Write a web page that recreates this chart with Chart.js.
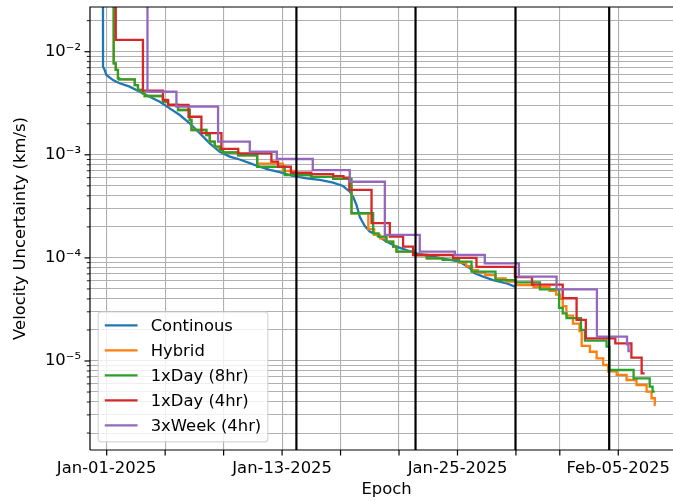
<!DOCTYPE html>
<html>
<head>
<meta charset="utf-8">
<script src="https://cdn.jsdelivr.net/npm/chart.js@4.4.1/dist/chart.umd.min.js"></script>
<style>
  html, body { margin: 0; padding: 0; background: #fff; overflow: hidden; }
  canvas { display: block; }
</style>
</head>
<body>
<canvas id="chart" width="683" height="501"></canvas>
<script>
// Epochs are days since 2025-01-01 00:00 UTC; values are 1-sigma velocity uncertainty in km/s.
// Step series hold each value from its epoch until the next epoch.
const seriesNames  = ['Continous', 'Hybrid', '1xDay (8hr)', '1xDay (4hr)', '3xWeek (4hr)'];
const seriesColors = ['#1f77b4', '#ff7f0e', '#2ca02c', '#d62728', '#9467bd'];

const contDays = [-0.26, -0.25, -0.14, -0.02, 0.43, 0.89, 1.57, 2.26, 2.94, 3.63, 4.31, 5.0, 5.68, 6.37, 7.05, 7.73,
  8.42, 9.10, 9.79, 10.47, 11.16, 11.84, 12.75, 13.67, 14.58, 15.49, 16.17, 16.63, 16.86, 17.09, 17.32, 17.66,
  18.0, 18.46, 19.14, 19.83, 20.51, 21.2, 22.33, 23.48, 24.16, 24.85, 25.19, 25.76, 26.44, 27.36, 27.93];
const contVel = [1e-1, 7.15e-3, 6.65e-3, 5.94e-3, 5.31e-3, 4.94e-3, 4.58e-3, 4.09e-3, 3.66e-3, 3.27e-3, 2.82e-3, 2.43e-3,
  2.02e-3, 1.62e-3, 1.29e-3, 1.07e-3, 9.6e-4, 9.0e-4, 8.3e-4, 7.66e-4, 7.13e-4, 6.8e-4, 6.23e-4, 5.92e-4, 5.7e-4,
  5.36e-4, 4.98e-4, 4.39e-4, 3.92e-4, 3.26e-4, 2.49e-4, 2.04e-4, 1.8e-4, 1.67e-4, 1.44e-4, 1.285e-4, 1.19e-4,
  1.108e-4, 1.028e-4, 9.55e-5, 9.19e-5, 7.93e-5, 7.09e-5, 6.58e-5, 6.1e-5, 5.67e-5, 5.26e-5];

const hybDays = [-0.3, 0.48, 0.62, 0.77, 0.85, 1.92, 2.14, 2.48, 2.6, 3.85, 4.2, 4.88, 5.68, 5.8, 6.82, 7.05, 7.39,
  7.73, 7.96, 8.99, 10.3, 12.05, 12.9, 14.0, 15.5, 16.65, 16.75, 17.9, 18.3, 18.7, 19.14, 19.6, 19.83, 21.08, 21.9,
  23.0, 24.1, 24.6, 25.0, 25.4, 25.9, 26.6, 27.3, 28.0, 29.2, 30.3, 30.75, 31.0, 31.2, 31.45, 31.9, 32.35, 32.5,
  33.06, 33.52, 33.97, 34.31, 34.89, 35.57, 36.25, 36.94, 37.28, 37.5, 37.55];
const hybVel = [1e-1, 7.72e-3, 6.65e-3, 5.52e-3, 5.40e-3, 4.75e-3, 4.25e-3, 3.95e-3, 3.72e-3, 3.27e-3, 3.04e-3, 2.72e-3,
  2.18e-3, 1.74e-3, 1.556e-3, 1.34e-3, 1.20e-3, 1.11e-3, 1.053e-3, 9.9e-4, 8.2e-4, 6.97e-4, 6.37e-4, 6.1e-4, 5.83e-4,
  5.0e-4, 2.71e-4, 1.9e-4, 1.67e-4, 1.55e-4, 1.44e-4, 1.285e-4, 1.15e-4, 1.067e-4, 9.9e-5, 9.55e-5, 9.0e-5, 8.3e-5,
  7.6e-5, 7.2e-5, 6.8e-5, 6.34e-5, 5.9e-5, 5.46e-5, 5.2e-5, 4.8e-5, 4.4e-5, 4.0e-5, 3.4e-5, 2.75e-5, 2.3e-5, 1.95e-5,
  1.4e-5, 1.23e-5, 1.062e-5, 9.14e-6, 7.94e-6, 7.32e-6, 6.54e-6, 5.85e-6, 5.04e-6, 4.35e-6, 3.74e-6, 3.74e-6];

const day8Days = [-0.3, 0.48, 0.62, 0.77, 0.85, 1.92, 2.14, 2.48, 2.6, 3.85, 4.2, 4.88, 5.68, 5.8, 6.82, 7.05, 7.39,
  7.73, 7.96, 8.99, 10.3, 12.18, 14.0, 15.5, 16.75, 18.23, 18.6, 19.14, 19.6, 19.83, 21.08, 21.9, 23.0, 24.1, 24.96,
  26.6, 28.0, 29.64, 30.95, 31.2, 31.46, 32.45, 32.72, 34.2, 34.4, 36.05, 37.15, 37.35, 37.5];
const day8Vel = [1e-1, 7.72e-3, 6.65e-3, 5.52e-3, 5.40e-3, 4.75e-3, 4.25e-3, 3.95e-3, 3.72e-3, 3.27e-3, 3.04e-3, 2.72e-3,
  2.18e-3, 1.74e-3, 1.556e-3, 1.34e-3, 1.20e-3, 1.11e-3, 1.053e-3, 9.9e-4, 7.66e-4, 6.37e-4, 6.1e-4, 5.83e-4, 2.71e-4,
  1.73e-4, 1.61e-4, 1.44e-4, 1.285e-4, 1.15e-4, 1.067e-4, 9.9e-5, 9.55e-5, 9.2e-5, 7.35e-5, 6.1e-5, 5.8e-5, 4.96e-5,
  3.27e-5, 2.9e-5, 2.6e-5, 2.0e-5, 1.574e-5, 1.377e-5, 8.18e-6, 6.79e-6, 5.64e-6, 5.04e-6, 5.04e-6];

const day4Days = [-0.3, 0.62, 2.48, 3.85, 4.2, 5.6, 6.48, 7.85, 9.0, 11.27, 11.72, 12.6, 14.0, 15.5, 16.2, 16.6, 18.12,
  19.37, 20.28, 20.96, 23.7, 25.3, 27.93, 29.1, 31.2, 32.15, 32.78, 34.8, 35.9, 36.6, 36.8];
const day4Vel = [1e-1, 1.3e-2, 4.2e-3, 3.4e-3, 3.04e-3, 2.34e-3, 1.62e-3, 1.14e-3, 1.034e-3, 8.6e-4, 7.66e-4, 6.7e-4,
  6.5e-4, 6.2e-4, 6.0e-4, 4.56e-4, 2.17e-4, 1.61e-4, 1.285e-4, 1.067e-4, 1.0e-4, 8.2e-5, 6.5e-5, 5.5e-5, 4.06e-5,
  2.5e-5, 1.66e-5, 1.485e-5, 1.08e-5, 7.6e-6, 7.6e-6];

const weekDays = [-0.3, 2.79, 4.77, 7.62, 9.79, 11.64, 14.1, 16.63, 19.03, 21.42, 23.82, 25.87, 28.2, 30.78, 33.54,
  35.6, 35.7, 35.8];
const weekVel = [1e-1, 4.09e-3, 2.93e-3, 1.34e-3, 1.07e-3, 9.1e-4, 7.1e-4, 5.48e-4, 1.67e-4, 1.15e-4, 1.067e-4, 8.86e-5,
  6.58e-5, 4.96e-5, 1.72e-5, 1.45e-5, 1.25e-5, 1.25e-5];

// Event epochs marked with vertical black lines
const eventDays = [12.98, 21.13, 27.97, 34.38];

// Axis setup
const xTickDays   = [0, 4, 8, 12, 16, 20, 24, 28, 31, 35];
const xTickLabels = ['Jan-01-2025', '', '', 'Jan-13-2025', '', '', 'Jan-25-2025', '', '', 'Feb-05-2025'];
const xRange = [-1.142, 39.43];
const yMajorTicks  = [1e-5, 1e-4, 1e-3, 1e-2];
const yMajorLabels = ['10\u207B\u2075', '10\u207B\u2074', '10\u207B\u00B3', '10\u207B\u00B2'];
const yRange = [1.37e-6, 2.714e-2];

const FONT = 'DejaVu Sans';
const FS = 16.4;

// log-axis tick values: decades plus 2..9 sub-ticks inside the range
const yTickValues = [];
for (let e = -7; e <= -1; e++) {
  for (let m = 1; m <= 9; m++) {
    const v = m * Math.pow(10, e);
    if (v > yRange[0] && v < yRange[1]) yTickValues.push(v);
  }
}
const isMajor = v => yMajorTicks.findIndex(m => Math.abs(m - v) / m < 1e-9);

function points(days, vals) {
  return days.map((d, i) => ({ x: d, y: vals[i] }));
}

// 'before' in Chart.js: hold the previous value, then drop at the new epoch
const seriesData = [
  { days: contDays, vals: contVel, stepped: false, order: 5 },
  { days: hybDays,  vals: hybVel,  stepped: 'before', order: 4 },
  { days: day8Days, vals: day8Vel, stepped: 'before', order: 3 },
  { days: day4Days, vals: day4Vel, stepped: 'before', order: 2 },
  { days: weekDays, vals: weekVel, stepped: 'before', order: 1 }
];

const datasets = seriesData.map((s, i) => ({
  label: seriesNames[i],
  data: points(s.days, s.vals),
  stepped: s.stepped,
  order: s.order,
  borderColor: seriesColors[i],
  backgroundColor: seriesColors[i],
  borderWidth: 2.3,
  pointRadius: 0,
  pointHoverRadius: 0,
  tension: 0,
  fill: false,
  clip: 0
}));

// Event lines, axes frame, tick marks
const framePlugin = {
  id: 'frame',
  afterDatasetsDraw(chart) {
    const { ctx, chartArea: a, scales: { x, y } } = chart;
    ctx.save();
    ctx.strokeStyle = '#000';
    ctx.lineWidth = 2.2;
    eventDays.forEach(d => {
      const px = x.getPixelForValue(d);
      ctx.beginPath();
      ctx.moveTo(px, a.top);
      ctx.lineTo(px, a.bottom);
      ctx.stroke();
    });
    // spines: left, top, bottom
    ctx.lineWidth = 1.2;
    ctx.beginPath();
    ctx.moveTo(a.left, a.bottom);
    ctx.lineTo(a.left, a.top);
    ctx.lineTo(a.right + 2, a.top);
    ctx.moveTo(a.left, a.bottom);
    ctx.lineTo(a.right + 2, a.bottom);
    ctx.stroke();
    // x tick marks
    x.ticks.forEach(t => {
      const px = x.getPixelForValue(t.value);
      ctx.beginPath();
      ctx.moveTo(px, a.bottom);
      ctx.lineTo(px, a.bottom + 5.5);
      ctx.stroke();
    });
    // y tick marks (major longer than minor)
    y.ticks.forEach(t => {
      const py = y.getPixelForValue(t.value);
      const major = isMajor(t.value) >= 0;
      ctx.lineWidth = major ? 1.2 : 0.9;
      ctx.beginPath();
      ctx.moveTo(a.left - (major ? 5.5 : 3.2), py);
      ctx.lineTo(a.left, py);
      ctx.stroke();
    });
    ctx.restore();
  },
  afterDraw(chart) {
    // legend box, lower left inside the axes
    const { ctx, chartArea: a } = chart;
    const ds = chart.data.datasets;
    ctx.save();
    ctx.font = FS + 'px "' + FONT + '"';
    const pad = 0.4 * FS, handle = 2 * FS, textPad = 0.8 * FS, rowGap = 0.5 * FS, textH = 16.8;
    const textW = Math.max(...ds.map(d => ctx.measureText(d.label).width));
    const w = 2 * pad + handle + textPad + textW;
    const h = 2 * pad + ds.length * textH + (ds.length - 1) * rowGap;
    const left = a.left + 0.5 * FS;
    const top = a.bottom - 0.5 * FS - h;
    const r = 0.2 * FS;
    ctx.beginPath();
    ctx.moveTo(left + r, top);
    ctx.arcTo(left + w, top, left + w, top + h, r);
    ctx.arcTo(left + w, top + h, left, top + h, r);
    ctx.arcTo(left, top + h, left, top, r);
    ctx.arcTo(left, top, left + w, top, r);
    ctx.closePath();
    ctx.fillStyle = 'rgba(255,255,255,0.8)';
    ctx.fill();
    ctx.strokeStyle = 'rgba(204,204,204,0.8)';
    ctx.lineWidth = 1.2;
    ctx.stroke();
    ctx.textBaseline = 'middle';
    ctx.textAlign = 'left';
    ds.forEach((d, i) => {
      const cy = top + pad + textH / 2 - 1.5 + i * (textH + rowGap);
      ctx.strokeStyle = d.borderColor;
      ctx.lineWidth = 2.3;
      ctx.beginPath();
      ctx.moveTo(left + pad, cy);
      ctx.lineTo(left + pad + handle, cy);
      ctx.stroke();
      ctx.fillStyle = '#000';
      ctx.fillText(d.label, left + pad + handle + textPad, cy + 1);
    });
    ctx.restore();
  }
};

Chart.defaults.font.family = FONT;
Chart.defaults.color = '#000';

new Chart(document.getElementById('chart'), {
  type: 'line',
  data: { datasets },
  options: {
    responsive: false,
    animation: false,
    devicePixelRatio: 1,
    layout: { padding: { left: 0, top: 7, right: 0, bottom: 0 } },
    plugins: { legend: { display: false }, tooltip: { enabled: false } },
    events: [],
    scales: {
      x: {
        type: 'linear',
        min: xRange[0],
        max: xRange[1],
        afterBuildTicks: s => { s.ticks = xTickDays.map(v => ({ value: v })); },
        afterFit: s => { s.height = 51; },
        ticks: {
          autoSkip: false,
          maxRotation: 0,
          padding: 3,
          font: { size: FS },
          callback: (v, i) => xTickLabels[i]
        },
        grid: { color: '#b0b0b0', lineWidth: 1.1, tickLength: 5.5, tickColor: 'rgba(0,0,0,0)' },
        border: { display: false },
        title: { display: true, text: 'Epoch', font: { size: FS }, padding: { top: 0, bottom: 1 } }
      },
      y: {
        type: 'logarithmic',
        min: yRange[0],
        max: yRange[1],
        afterBuildTicks: s => { s.ticks = yTickValues.map(v => ({ value: v })); },
        afterFit: s => { s.width = 90; },
        ticks: {
          autoSkip: false,
          padding: 0,
          font: { size: FS, lineHeight: 0.8 },
          callback: v => { const k = isMajor(v); return k >= 0 ? yMajorLabels[k] : ''; }
        },
        grid: { color: '#b0b0b0', lineWidth: 1.1, tickLength: 9, tickColor: 'rgba(0,0,0,0)' },
        border: { display: false },
        title: { display: true, text: 'Velocity Uncertainty (km/s)', font: { size: FS }, padding: { top: 11, bottom: 0 } }
      }
    }
  },
  plugins: [framePlugin]
});
</script>
</body>
</html>
